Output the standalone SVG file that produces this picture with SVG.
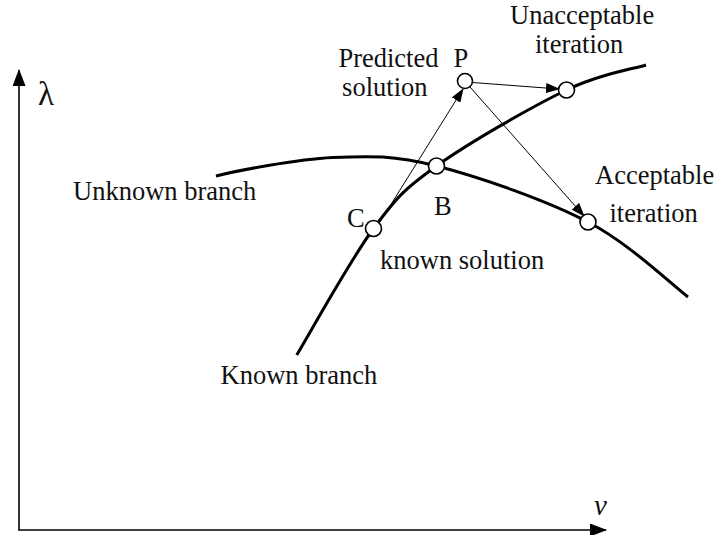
<svg xmlns="http://www.w3.org/2000/svg" width="717" height="535" viewBox="0 0 717 535">
<style>
text{font-family:"Liberation Serif","Times New Roman",serif;font-size:26.5px;fill:#111}
.curve{fill:none;stroke:#000;stroke-width:3}
.thin{fill:none;stroke:#000;stroke-width:1}
.axis{fill:none;stroke:#000;stroke-width:1.6}
.pt{fill:#fff;stroke:#000;stroke-width:1.6}
</style>
<defs>
<marker id="ah" markerUnits="userSpaceOnUse" markerWidth="14" markerHeight="10" refX="13" refY="5" orient="auto">
<path d="M0,0 L14,5 L0,10 Z" fill="#000"/>
</marker>
<marker id="axh" markerUnits="userSpaceOnUse" markerWidth="17" markerHeight="13" refX="16" refY="6.5" orient="auto">
<path d="M0,0 L17,6.5 L0,13 Z" fill="#000"/>
</marker>
</defs>
<g id="axes">
<path class="axis" d="M19,530 L19,70" marker-end="url(#axh)"/>
<path class="axis" d="M18.2,530 L606,530" marker-end="url(#axh)"/>
<text x="38" y="105" style="font-size:33px">λ</text>
<text x="594" y="515" style="font-size:29px;font-style:italic">v</text>
</g>
<g id="known-branch">
<path class="curve" d="M296.7,355 C309.5,333.9 350.2,260 373.5,228.5 C396.8,197 404.3,189.1 436.5,166 C468.7,142.9 531.6,106.8 566.5,90 C601.4,73.2 632.75,69.2 646,65"/>
<text x="220.5" y="383.5">Known branch</text>
</g>
<g id="unknown-branch">
<path class="curve" d="M216,176 C235.5,171 296.25,159.2 333,157.5 C369.75,155.8 394,155.25 436.5,166 C479,176.75 546.1,200.2 588,222 C629.9,243.8 671.3,284.5 688,297"/>
<text x="73" y="199.5">Unknown branch</text>
</g>
<g id="connectors">
<path class="thin" d="M380,222 L463,89" marker-end="url(#ah)"/>
<path class="thin" d="M472.5,82.5 L559,89" marker-end="url(#ah)"/>
<path class="thin" d="M470,87 L584,216" marker-end="url(#ah)"/>
</g>
<g id="node-C">
<circle class="pt" cx="373.5" cy="228.5" r="8"/>
<text x="347" y="226.5">C</text>
</g>
<g id="node-B">
<circle class="pt" cx="436.5" cy="166" r="8"/>
<text x="434" y="215">B</text>
<text x="380" y="268.5">known solution</text>
</g>
<g id="node-P">
<circle class="pt" cx="465" cy="81" r="7.5"/>
<text x="453.5" y="66.5">P</text>
<text x="438.5" y="67" text-anchor="end">Predicted</text>
<text x="427.5" y="95.5" text-anchor="end">solution</text>
</g>
<g id="node-unacceptable">
<circle class="pt" cx="566.5" cy="90" r="8"/>
<text x="510" y="24">Unacceptable</text>
<text x="535" y="53">iteration</text>
</g>
<g id="node-acceptable">
<circle class="pt" cx="588" cy="222" r="8"/>
<text x="595" y="183.5">Acceptable</text>
<text x="609.5" y="221.5">iteration</text>
</g>
</svg>
